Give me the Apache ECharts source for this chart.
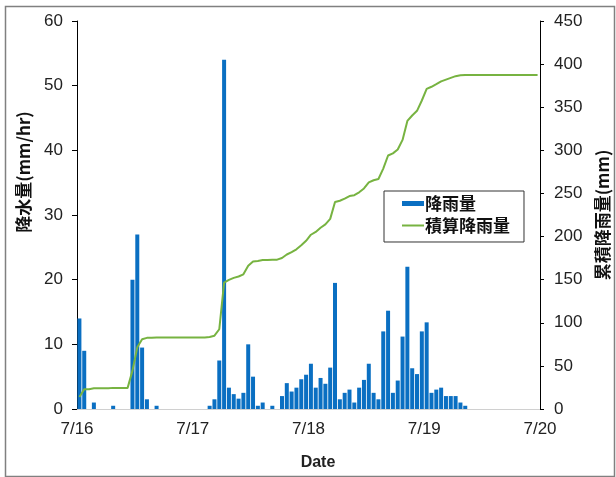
<!DOCTYPE html>
<html><head><meta charset="utf-8">
<script src="https://cdn.jsdelivr.net/npm/echarts@6/dist/echarts.min.js"></script>
<style>html,body{margin:0;padding:0;background:#fff}#c{width:616px;height:477px}</style>
</head><body><div id="c"></div>
<script>
// Hourly rainfall, 7/16 00:00 .. 7/19 23:00 (96 hours)
const hourlyRain = [
  14, 9, 0, 1, 0, 0, 0, 0.5, 0, 0, 0, 20, 27, 9.5, 1.5, 0, 0.5, 0, 0, 0, 0, 0, 0, 0,
  0, 0, 0, 0.5, 1.5, 7.5, 54, 3.3, 2.3, 1.6, 2.5, 10, 5, 0.5, 1, 0, 0.5, 0, 2, 4, 2.7, 3.3, 4.6, 5.3,
  7, 3.3, 4.8, 3.9, 6.4, 19.5, 1.5, 2.5, 3, 1, 3.3, 4.5, 7, 2.5, 1.5, 12, 15.2, 2.5, 4.4, 11.2, 22, 6.3, 5.4, 12,
  13.4, 2.5, 3, 3.3, 2, 2, 2, 1, 0.5, 0, 0, 0, 0, 0, 0, 0, 0, 0, 0, 0, 0, 0, 0, 0
];
const cumulativeRain = [
  14, 23, 23, 24, 24, 24, 24, 24.5, 24.5, 24.5, 24.5, 44.5, 71.5, 81, 82.5, 82.5, 83, 83, 83, 83, 83, 83, 83, 83,
  83, 83, 83, 83.5, 85, 92.5, 146.5, 149.8, 152.1, 153.7, 156.2, 166.2, 171.2, 171.7, 172.7, 172.7, 173.2, 173.2, 175.2, 179.2, 181.9, 185.2, 189.8, 195.1,
  202.1, 205.4, 210.2, 214.1, 220.5, 240, 241.5, 244, 247, 248, 251.3, 255.8, 262.8, 265.3, 266.8, 278.8, 294, 296.5, 300.9, 312.1, 334.1, 340.4, 345.8, 357.8,
  371.2, 373.7, 376.7, 380, 382, 384, 386, 387, 387.5, 387.5, 387.5, 387.5, 387.5, 387.5, 387.5, 387.5, 387.5, 387.5, 387.5, 387.5, 387.5, 387.5, 387.5, 387.5
];
const dateLabels = ['7/16', '7/17', '7/18', '7/19', '7/20'];
const seriesNames = ['降雨量', '積算降雨量'];
const axisNames = { left: '降水量(mm/hr)', right: '累積降雨量(mm)', x: 'Date' };

const numFont = 'Liberation Sans, Arial, sans-serif';
const cjkFont = '"Noto Sans CJK JP", sans-serif';
const chart = echarts.init(document.getElementById('c'), null, { renderer: 'canvas' });
chart.setOption({
  animation: false,
  backgroundColor: '#fff',
  grid: { left: 77, right: 76, top: 21, bottom: 68, containLabel: false },
  legend: {
    orient: 'vertical', left: 384, top: 191,
    padding: [4, 14, 8, 17], itemGap: 5, itemWidth: 22, itemHeight: 5,
    backgroundColor: '#fff', borderColor: '#333', borderWidth: 1, borderRadius: 0,
    textStyle: { fontFamily: cjkFont, fontWeight: 'bold', fontSize: 17, color: '#111', padding: [0, 0, 0, -4] },
    data: [
      { name: seriesNames[0], icon: 'rect' },
      { name: seriesNames[1], itemStyle: { opacity: 0 }, lineStyle: { color: '#77b341', width: 2, opacity: 1 } }
    ]
  },
  xAxis: {
    type: 'value', min: 0, max: 96, interval: 24,
    axisLine: { show: true, onZero: false, lineStyle: { color: '#d0d0d0', width: 1 } },
    axisTick: { show: false }, splitLine: { show: false },
    axisLabel: { margin: 12, fontFamily: numFont, fontSize: 17, color: '#222',
      formatter: v => dateLabels[Math.round(v / 24)] }
  },
  yAxis: [
    { type: 'value', min: 0, max: 60, interval: 10, position: 'left',
      axisLine: { show: true, lineStyle: { color: '#000', width: 1 } },
      axisTick: { show: true, inside: false, length: 5, lineStyle: { color: '#000' } },
      splitLine: { show: false },
      axisLabel: { margin: 14, fontFamily: numFont, fontSize: 17, color: '#222' } },
    { type: 'value', min: 0, max: 450, interval: 50, position: 'right',
      axisLine: { show: true, lineStyle: { color: '#000', width: 1 } },
      axisTick: { show: true, inside: false, length: 4, lineStyle: { color: '#000' } },
      splitLine: { show: false },
      axisLabel: { margin: 14, fontFamily: numFont, fontSize: 17, color: '#222' } }
  ],
  series: [
    { name: seriesNames[0], type: 'bar', yAxisIndex: 0, barWidth: 4,
      itemStyle: { color: '#0a6fc2' },
      data: hourlyRain.map((v, i) => [i + 0.5, v]) },
    { name: seriesNames[1], type: 'line', yAxisIndex: 1, symbol: 'none',
      lineStyle: { color: '#77b341', width: 2 }, itemStyle: { color: '#77b341' },
      data: cumulativeRain.map((v, i) => [i + 0.5, v]) }
  ],
  graphic: [
    { type: 'rect', left: 3, top: 4, shape: { width: 609, height: 470 }, silent: true,
      style: { fill: 'none', stroke: '#808080', lineWidth: 1.5 } },
    { type: 'text', x: 24, y: 172, rotation: Math.PI / 2,
      style: { text: axisNames.left, font: 'bold 17px ' + cjkFont, fill: '#111', align: 'center', verticalAlign: 'middle' } },
    { type: 'text', x: 603, y: 215, rotation: Math.PI / 2,
      style: { text: axisNames.right, font: 'bold 17px ' + cjkFont, fill: '#111', align: 'center', verticalAlign: 'middle' } },
    { type: 'text', x: 318, y: 463,
      style: { text: axisNames.x, font: 'bold 16px ' + numFont, fill: '#222', align: 'center', verticalAlign: 'middle' } }
  ]
});
</script></body></html>
